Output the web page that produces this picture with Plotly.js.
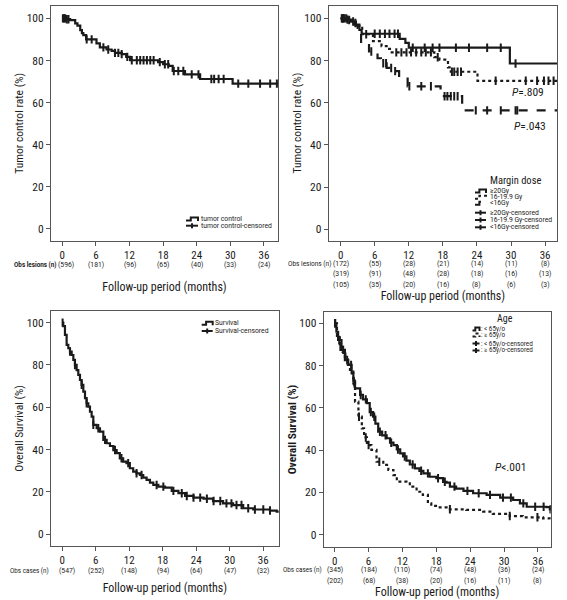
<!DOCTYPE html>
<html><head><meta charset="utf-8">
<script src="https://cdn.plot.ly/plotly-3.0.1.min.js"></script>
<style>html,body{margin:0;padding:0;background:#fff}#chart{width:567px;height:600px}</style>
</head><body><div id="chart"></div>
<script>
// ---------------- DATA ----------------
const monthTicks = [0, 6, 12, 18, 24, 30, 36];
const pctTicks = [0, 20, 40, 60, 80, 100];

// Panel A: tumor control (all lesions)
const tcTime   = [0, 0.7, 1.4, 2.3, 2.7, 3.2, 3.5, 3.75, 4.25, 6.1, 6.7, 7.9, 8.8, 9.4, 10.6, 11.4, 12.1, 17.1, 18.0, 19.0, 19.7, 21.9, 24.6, 30.4, 39];
const tcRate   = [100, 99.6, 99.2, 97.6, 96.5, 94.4, 93, 92, 90, 88.1, 86.2, 85.2, 84.6, 83.6, 83, 81.7, 80.1, 79.2, 78.2, 77.4, 75, 73.4, 71.2, 69, 69];
const tcCensor = [0.1, 0.3, 0.5, 0.8, 1.1, 4.35, 5.24, 7.33, 8.2, 9.4, 10, 10.6, 11.6, 12.4, 13.3, 13.9, 14.5, 15.1, 15.7, 16.3, 17.4, 18.3, 18.9, 19.9, 20.7, 21.6, 23.1, 24.3, 26.6, 27.1, 27.9, 28.8, 31.4, 33.2, 35.3, 37.1, 38.3];
const tcAtRisk = [596, 181, 96, 65, 40, 33, 24];

// Panel B: tumor control by margin dose
const doseGroups = ['≥20Gy', '16-19.9 Gy', '<16Gy'];
const gy20Time   = [0, 0.8, 1.8, 2.7, 3.3, 3.7, 10.4, 11.4, 12.0, 29.8, 39];
const gy20Rate   = [100, 99.4, 98.5, 96.5, 94.5, 92.7, 90.3, 88.4, 86.1, 78.6, 78.6];
const gy20Censor = [0.2, 0.5, 1.2, 2.2, 6.0, 6.9, 7.8, 8.6, 9.5, 10.1, 12.7, 14.8, 16.2, 17.4, 20.3, 22.6, 25.8, 28.2, 30.8];
const gy16Time   = [0, 1.2, 2.2, 3.0, 3.8, 5.7, 7.2, 8.1, 9.0, 16.5, 17.4, 18.9, 19.4, 24.1, 39];
const gy16Rate   = [100, 99.2, 97.8, 95.5, 92.5, 89.2, 86.8, 85.5, 83.9, 81.6, 80.4, 76.8, 74.7, 70.4, 70.4];
const gy16Censor = [0.3, 0.7, 1.5, 2.6, 4.5, 9.8, 10.7, 11.6, 12.4, 13.3, 14.2, 15.0, 15.9, 17.1, 19.6, 20.0, 20.6, 21.2, 27.3, 32.6, 34.6, 35.8, 36.6, 37.5];
const lt16Time   = [0, 1.5, 2.5, 3.3, 3.6, 5.0, 6.5, 7.1, 8.1, 9.4, 10.3, 11.8, 17.6, 21.4, 39];
const lt16Rate   = [100, 98.8, 97, 94, 88.2, 84.3, 81.1, 78.7, 76.5, 75, 71.5, 67.8, 63.1, 56.4, 56.4];
const lt16Censor = [0.4, 1.0, 5.4, 7.5, 8.0, 8.9, 9.6, 12.1, 14.2, 15.9, 18.3, 18.8, 19.4, 20.0, 20.6, 23.8, 25.8, 28.2, 30.8, 31.1];
const gy20AtRisk = [172, 55, 28, 21, 14, 11, 8];
const gy16AtRisk = [319, 91, 48, 28, 18, 16, 13];
const lt16AtRisk = [105, 35, 20, 16, 8, 6, 3];
const doseP = ['.809', '.043'];

// Panel C: overall survival (all cases)
const osTime   = [0, 0.18, 0.48, 0.78, 1.08, 1.38, 1.68, 1.98, 2.27, 2.57, 2.87, 3.17, 3.47, 3.77, 4.07, 4.36, 4.66, 4.96, 5.26, 5.56, 6.16, 6.75, 7.35, 7.95, 8.54, 9.14, 9.74, 10.3, 10.9, 11.5, 12.1, 12.7, 13.3, 13.9, 14.5, 15.1, 15.7, 16.3, 17.2, 18.4, 19.6, 20.8, 22.0, 23.5, 25.3, 27.0, 28.8, 30.6, 32.4, 34.2, 37.2, 38.4, 39.5];
const osRate   = [100, 98.4, 94.2, 89.5, 87.9, 86.3, 84.7, 82.4, 80.0, 77.6, 75.3, 72.9, 70.6, 67.4, 64.3, 61.9, 60.3, 57.9, 55.6, 51.7, 50.1, 48.5, 44.6, 43.0, 41.7, 39.8, 38.3, 35.9, 34.3, 33.6, 31.2, 29.6, 28.8, 28.0, 26.8, 25.7, 24.4, 23.3, 22.5, 22.0, 20.5, 19.4, 18.1, 17.3, 16.8, 15.7, 14.6, 13.8, 12.3, 11.7, 11.2, 10.7, 10.7];
const osCensor = [0.06, 1.38, 2.27, 3.47, 4.36, 5.56, 6.45, 7.65, 9.44, 10.6, 11.8, 13.3, 14.2, 16.9, 18.1, 19.9, 21.4, 22.3, 23.5, 24.7, 25.9, 27.1, 28.3, 29.4, 30.3, 31.2, 32.1, 33.3, 34.5, 36.0, 37.2];
const osAtRisk = [547, 252, 148, 94, 64, 47, 32];

// Panel D: overall survival by age
const ageGroups = [': < 65y/o', ': ≥ 65y/o'];
const ytTime   = [0, 0.3, 0.6, 1.2, 1.8, 2.4, 3.0, 3.3, 3.6, 4.5, 5.0, 5.7, 6.2, 6.8, 7.2, 7.7, 8.4, 9.2, 9.8, 10.4, 11.0, 11.6, 12.1, 12.7, 13.3, 14.2, 15.0, 15.7, 16.8, 18.0, 19.2, 19.8, 20.4, 21.5, 22.8, 24.5, 26.9, 29.3, 31.6, 32.8, 34.0, 37.5, 38.1, 39.5];
const ytRate   = [100, 96, 92.1, 87.4, 82.6, 80.3, 76.3, 72.5, 69.2, 66.1, 64, 62.2, 58, 55.8, 52.5, 48.7, 47, 45.6, 43.5, 42.4, 40.3, 38.5, 37, 35, 33.2, 31.4, 30.2, 29.0, 27.4, 26.7, 25.0, 24.6, 22.7, 21.8, 20.7, 19.6, 18.8, 17.5, 16.4, 14.8, 13.2, 13.0, 12.0, 12.0];
const ytCensor = [0.1, 0.8, 1.5, 2.2, 2.9, 3.4, 4.6, 5.5, 6.4, 7.0, 8.0, 9.0, 10.0, 11.2, 12.4, 13.8, 15.3, 16.5, 18.3, 19.5, 21.2, 23.5, 25.5, 27.5, 29.8, 31.2, 33.4, 35.5, 37.0, 38.2];
const otTime   = [0, 0.4, 0.9, 1.4, 1.8, 2.3, 2.7, 3.3, 3.6, 4.2, 4.8, 5.2, 5.7, 6.5, 7.4, 8.6, 9.5, 10.4, 11.0, 12.7, 13.3, 14.5, 15.6, 16.5, 17.1, 18.6, 20.4, 23.3, 26.3, 28.0, 31.0, 33.3, 36.9, 38.1, 39.5];
const otRate   = [100, 94, 88.9, 86.5, 84.2, 80.5, 77.1, 71.6, 62.9, 55.8, 50.3, 46, 42.4, 40.1, 34.5, 33.0, 30.6, 28.2, 25.1, 24.3, 22.7, 20.3, 18.8, 14.8, 13.6, 12.9, 12.0, 11.7, 10.9, 9.8, 8.8, 8.2, 7.7, 6.9, 6.9];
const otCensor = [0.05, 1.0, 1.9, 3.5, 4.3, 5.5, 6.0, 7.9, 20.4, 31.0, 35.9];
const ytAtRisk = [345, 184, 110, 74, 48, 36, 24];
const otAtRisk = [202, 68, 38, 20, 16, 11, 8];
const ageP = '<.001';

// ---------------- HELPERS ----------------
const W = 567, H = 600;
const fx = x => x / W;
const fy = y => 1 - y / H;
const FONT = 'Roboto Condensed, DejaVu Sans Condensed, Roboto, sans-serif';
const SMALL = 'Roboto, Open Sans, sans-serif';
const INK = '#1a1a1a';
const esc = s => s.replace(/</g, '&lt;');

function stepY(times, vals, t) {
  let v = vals[0];
  for (let i = 0; i < times.length; i++) { if (times[i] <= t) v = vals[i]; else break; }
  return v;
}
function curve(times, vals, ax, dash, name) {
  return { x: times, y: vals, xaxis: ax.x, yaxis: ax.y, mode: 'lines', name: name,
    line: { shape: 'hv', color: INK, width: 2.2, dash: dash }, hoverinfo: 'skip' };
}
function censor(times, vals, ct, ax, name) {
  return { x: ct, y: ct.map(t => stepY(times, vals, t)), xaxis: ax.x, yaxis: ax.y, mode: 'markers', name: name,
    marker: { symbol: 'line-ns-open', size: 6, color: INK, line: { width: 2, color: INK } }, hoverinfo: 'skip' };
}

const A = { x: 'x', y: 'y' }, B = { x: 'x2', y: 'y2' }, C = { x: 'x3', y: 'y3' }, D = { x: 'x4', y: 'y4' };

const traces = [
  curve(tcTime, tcRate, A, 'solid', 'tumor control'),
  censor(tcTime, tcRate, tcCensor, A, 'tumor control-censored'),
  curve(gy20Time, gy20Rate, B, 'solid', doseGroups[0]),
  curve(gy16Time, gy16Rate, B, 'dot', doseGroups[1]),
  curve(lt16Time, lt16Rate, B, 'dash', doseGroups[2]),
  censor(gy20Time, gy20Rate, gy20Censor, B, doseGroups[0] + '-censored'),
  censor(gy16Time, gy16Rate, gy16Censor, B, doseGroups[1] + '-censored'),
  censor(lt16Time, lt16Rate, lt16Censor, B, doseGroups[2] + '-censored'),
  curve(osTime, osRate, C, 'solid', 'Survival'),
  censor(osTime, osRate, osCensor, C, 'Survival-censored'),
  curve(ytTime, ytRate, D, 'solid', ageGroups[0]),
  curve(otTime, otRate, D, 'dot', ageGroups[1]),
  censor(ytTime, ytRate, ytCensor, D, ageGroups[0] + '-censored'),
  censor(otTime, otRate, otCensor, D, ageGroups[1] + '-censored')
];

function xAxis(dom, rng, anchor, standoff) {
  return { domain: dom, range: rng, anchor: anchor, tickvals: monthTicks, ticks: 'outside', ticklen: 4,
    tickcolor: '#555', showline: true, mirror: true, linecolor: '#555', linewidth: 1, showgrid: false,
    zeroline: false, tickfont: { size: 11, color: INK, family: FONT },
    title: { text: 'Follow-up period (months)', standoff: standoff, font: { size: 12, color: INK, family: FONT } } };
}
function yAxis(dom, rng, anchor, title, bold) {
  return { domain: dom, range: rng, anchor: anchor, tickvals: pctTicks, ticks: 'outside', ticklen: 4,
    tickcolor: '#555', showline: true, mirror: true, linecolor: '#555', linewidth: 1, showgrid: false,
    zeroline: false, tickfont: { size: 11.5, color: INK, family: FONT },
    title: { text: bold ? '<b>' + title + '</b>' : title, standoff: 0, font: { size: 11.5, color: INK, family: FONT } } };
}

const annotations = [];
const shapes = [];
function txt(x, y, text, size, opts, family) {
  annotations.push(Object.assign({ x: fx(x), y: fy(y), xref: 'paper', yref: 'paper', text: text, showarrow: false,
    borderpad: 0, font: { size: size, color: INK, family: family || FONT }, xanchor: 'center', yanchor: 'middle' }, opts || {}));
}
function legText(x, y, text, size) { txt(x, y, text, size, { xanchor: 'left' }, SMALL); }
function riskRow(counts, xref, y, firstShift) {
  counts.forEach((n, i) => annotations.push({ x: monthTicks[i], y: fy(y), xref: xref, yref: 'paper',
    text: '(' + n + ')', showarrow: false, borderpad: 0, xshift: i === 0 ? firstShift : 0,
    font: { size: 6.8, color: '#222', family: SMALL }, xanchor: 'center', yanchor: 'middle' }));
}
function seg(x0, y0, x1, y1, dash) {
  shapes.push({ type: 'line', xref: 'paper', yref: 'paper', x0: fx(x0), y0: fy(y0), x1: fx(x1), y1: fy(y1),
    line: { color: INK, width: 2, dash: dash || 'solid' } });
}
function stepIcon(x0, y, w, dash) {
  const a = x0 + w * 0.4;
  shapes.push({ type: 'path', xref: 'paper', yref: 'paper',
    path: `M ${fx(x0)},${fy(y + 1.5)} L ${fx(a)},${fy(y + 1.5)} L ${fx(a)},${fy(y - 1.5)} L ${fx(x0 + w)},${fy(y - 1.5)} L ${fx(x0 + w)},${fy(y + 2)}`,
    line: { color: INK, width: 2, dash: dash || 'solid' } });
}
function censorIcon(x0, y, w) {
  seg(x0, y, x0 + w, y);
  seg(x0 + w / 2, y - 2.5, x0 + w / 2, y + 2.5);
}

// Panel A extras
txt(57, 264.5, '<b>Obs lesions (n)</b>', 6.3, { xanchor: 'right' }, SMALL);
riskRow(tcAtRisk, 'x', 264.5, 4);
stepIcon(186, 219, 12); legText(200, 219, 'tumor control', 6.8);
censorIcon(186, 225.7, 12); legText(200, 225.7, 'tumor control-censored', 6.8);

// Panel B extras
txt(332, 263.5, 'Obs lesions (n)', 6.5, { xanchor: 'right' }, SMALL);
riskRow(gy20AtRisk, 'x2', 263.5, 0);
riskRow(gy16AtRisk, 'x2', 274.2, 0);
riskRow(lt16AtRisk, 'x2', 285, 0);
txt(528, 91.7, '<i>P</i>=' + doseP[0], 11.5);
txt(529.7, 126, '<i>P</i>=' + doseP[1], 11.5);
txt(515, 180, 'Margin dose', 10.5);
const bRows = [191, 197.3, 203.3, 212.7, 220, 227.3];
stepIcon(475, bRows[0], 11, 'solid'); legText(489.3, bRows[0], esc(doseGroups[0]), 6.8);
stepIcon(475, bRows[1], 11, 'dot'); legText(489.3, bRows[1], esc(doseGroups[1]), 6.8);
stepIcon(475, bRows[2], 11, 'dash'); legText(489.3, bRows[2], esc(doseGroups[2]), 6.8);
censorIcon(475, bRows[3], 11); legText(489.3, bRows[3], esc(doseGroups[0]) + '-censored', 6.8);
censorIcon(475, bRows[4], 11); legText(489.3, bRows[4], esc(doseGroups[1]) + '-censored', 6.8);
censorIcon(475, bRows[5], 11); legText(489.3, bRows[5], esc(doseGroups[2]) + '-censored', 6.8);

// Panel C extras
txt(50, 571, 'Obs cases (n)', 6.3, { xanchor: 'right' }, SMALL);
riskRow(osAtRisk, 'x3', 571, 5);
stepIcon(201.7, 323.3, 11); legText(214.3, 323.3, 'Survival', 6.8);
censorIcon(201.7, 331, 11); legText(214.3, 331, 'Survival-censored', 6.8);

// Panel D extras
txt(323, 569.5, 'Obs cases (n)', 6.3, { xanchor: 'right' }, SMALL);
riskRow(ytAtRisk, 'x4', 569.5, 0);
riskRow(otAtRisk, 'x4', 580.5, 0);
txt(510, 467, '<i>P</i>' + esc(ageP), 11.5);
txt(504.7, 318.3, 'Age', 10);
const dRows = [329, 335, 343.5, 350.5];
stepIcon(472.5, dRows[0], 7, 'solid'); legText(480, dRows[0], esc(ageGroups[0]), 6.3);
stepIcon(472.5, dRows[1], 7, 'dot'); legText(480, dRows[1], esc(ageGroups[1]), 6.3);
censorIcon(472.5, dRows[2], 7); legText(480, dRows[2], esc(ageGroups[0]) + '-censored', 6.3);
censorIcon(472.5, dRows[3], 7); legText(480, dRows[3], esc(ageGroups[1]) + '-censored', 6.3);

const layout = {
  width: W, height: H, margin: { l: 0, r: 0, t: 0, b: 0 },
  paper_bgcolor: '#fff', plot_bgcolor: '#fff', showlegend: false,
  font: { family: FONT, color: INK },
  xaxis:  xAxis([fx(51), fx(278)], [-2.02, 38.5], 'y', 21),
  yaxis:  yAxis([fy(241), fy(5.5)], [-5.7, 106.1], 'x', 'Tumor control rate (%)'),
  xaxis2: xAxis([fx(328.7), fx(557)], [-2.1, 38.1], 'y2', 30),
  yaxis2: yAxis([fy(240.7), fy(5.5)], [-5.4, 106.1], 'x2', 'Tumor control rate (%)'),
  xaxis3: xAxis([fx(51), fx(278.7)], [-2.02, 38.76], 'y3', 17),
  yaxis3: yAxis([fy(545.7), fy(311)], [-5.4, 105.5], 'x3', 'Overall Survival (%)'),
  xaxis4: xAxis([fx(323.7), fx(550.7)], [-1.95, 38.25], 'y4', 20),
  yaxis4: yAxis([fy(546.7), fy(312.3)], [-5.7, 105.2], 'x4', 'Overall Survival (%)', true),
  annotations: annotations, shapes: shapes
};

Plotly.newPlot('chart', traces, layout, { staticPlot: true, displayModeBar: false });
</script></body></html>
